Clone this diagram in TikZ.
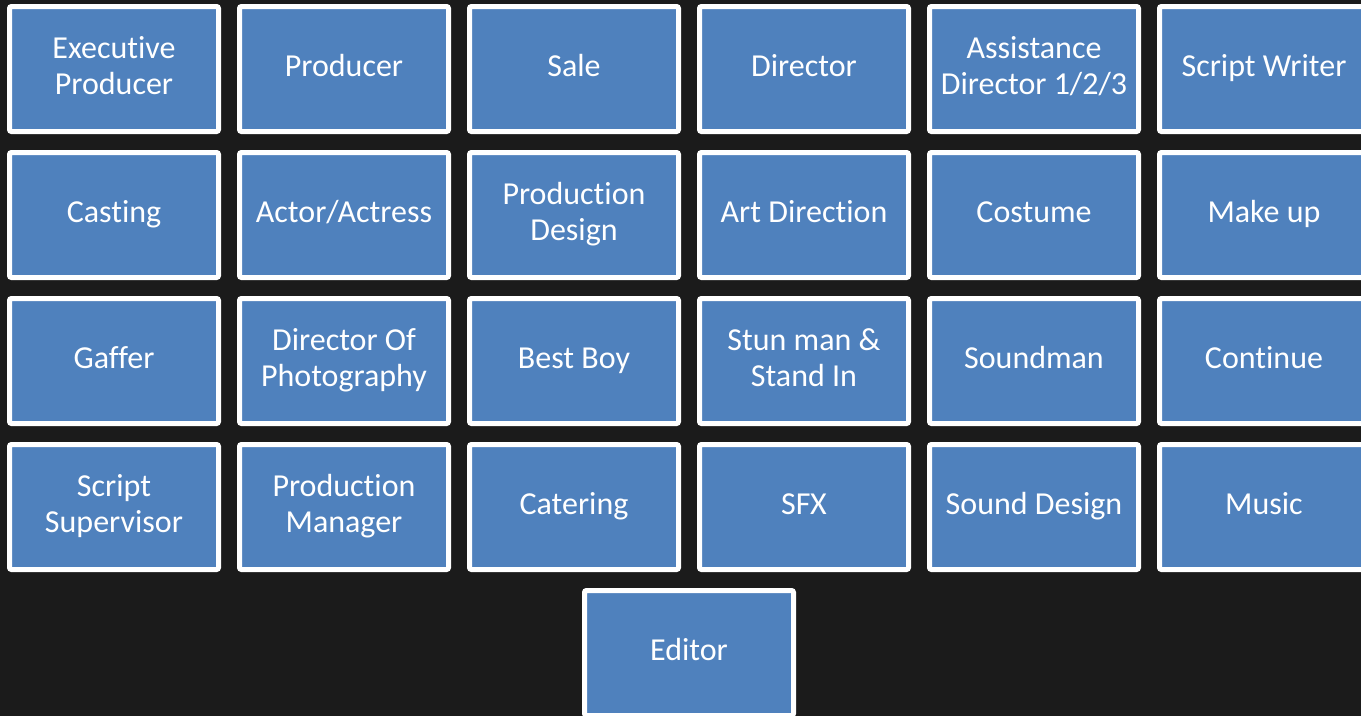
\documentclass[tikz,border=0pt]{standalone}
\usepackage{fontspec}
\setmainfont[Ligatures=NoCommon]{Carlito}
\definecolor{bg}{HTML}{1B1B1B}
\definecolor{boxblue}{HTML}{4F81BD}
\newcommand{\tl}[1]{\strut #1}
\begin{document}
\begin{tikzpicture}[x=1pt,y=-1pt,
  role/.style={draw=white, line width=5pt, fill=boxblue, rounded corners=2pt,
    minimum width=209pt, minimum height=125pt, inner sep=0pt},
  lbl/.style={text=white, align=center, inner sep=0pt, font=\fontsize{32}{36}\selectfont}]
\fill[bg] (0,0) rectangle (1361,716);
\useasboundingbox (0,0) rectangle (1361,716);
\begin{scope}
\clip (0,0) rectangle (1361,716);
% row 1
\node[role] (r1c1) at (114,69) {};
\node[role] (r1c2) at (344,69) {};
\node[role] (r1c3) at (574,69) {};
\node[role] (r1c4) at (804,69) {};
\node[role] (r1c5) at (1034,69) {};
\node[role] (r1c6) at (1264,69) {};
% row 2
\node[role] (r2c1) at (114,215) {};
\node[role] (r2c2) at (344,215) {};
\node[role] (r2c3) at (574,215) {};
\node[role] (r2c4) at (804,215) {};
\node[role] (r2c5) at (1034,215) {};
\node[role] (r2c6) at (1264,215) {};
% row 3
\node[role] (r3c1) at (114,361) {};
\node[role] (r3c2) at (344,361) {};
\node[role] (r3c3) at (574,361) {};
\node[role] (r3c4) at (804,361) {};
\node[role] (r3c5) at (1034,361) {};
\node[role] (r3c6) at (1264,361) {};
% row 4
\node[role] (r4c1) at (114,507) {};
\node[role] (r4c2) at (344,507) {};
\node[role] (r4c3) at (574,507) {};
\node[role] (r4c4) at (804,507) {};
\node[role] (r4c5) at (1034,507) {};
\node[role] (r4c6) at (1264,507) {};
% row 5
\node[role] (ed) at (689,653) {};
\end{scope}
% labels
\node[lbl] (t11) at (r1c1.center) {\tl{Executive}\\\tl{Producer}};
\node[lbl] (t12) at (r1c2.center) {\tl{Producer}};
\node[lbl] (t13) at (r1c3.center) {\tl{Sale}};
\node[lbl] (t14) at (r1c4.center) {\tl{Director}};
\node[lbl] (t15) at (r1c5.center) {\tl{Assistance}\\\tl{Director 1/2/3}};
\node[lbl] (t16) at (r1c6.center) {\tl{Script Writer}};
\node[lbl] (t21) at (r2c1.center) {\tl{Casting}};
\node[lbl] (t22) at (r2c2.center) {\tl{Actor/Actress}};
\node[lbl] (t23) at (r2c3.center) {\tl{Production}\\\tl{Design}};
\node[lbl] (t24) at (r2c4.center) {\tl{Art Direction}};
\node[lbl] (t25) at (r2c5.center) {\tl{Costume}};
\node[lbl] (t26) at (r2c6.center) {\tl{Make up}};
\node[lbl] (t31) at (r3c1.center) {\tl{Gaffer}};
\node[lbl] (t32) at (r3c2.center) {\tl{Director Of}\\\tl{Photography}};
\node[lbl] (t33) at (r3c3.center) {\tl{Best Boy}};
\node[lbl] (t34) at (r3c4.center) {\tl{Stun man \&}\\\tl{Stand In}};
\node[lbl] (t35) at (r3c5.center) {\tl{Soundman}};
\node[lbl] (t36) at (r3c6.center) {\tl{Continue}};
\node[lbl] (t41) at (r4c1.center) {\tl{Script}\\\tl{Supervisor}};
\node[lbl] (t42) at (r4c2.center) {\tl{Production}\\\tl{Manager}};
\node[lbl] (t43) at (r4c3.center) {\tl{Catering}};
\node[lbl] (t44) at (r4c4.center) {\tl{SFX}};
\node[lbl] (t45) at (r4c5.center) {\tl{Sound Design}};
\node[lbl] (t46) at (r4c6.center) {\tl{Music}};
\node[lbl] (ted) at (ed.center) {\tl{Editor}};
\end{tikzpicture}
\end{document}
